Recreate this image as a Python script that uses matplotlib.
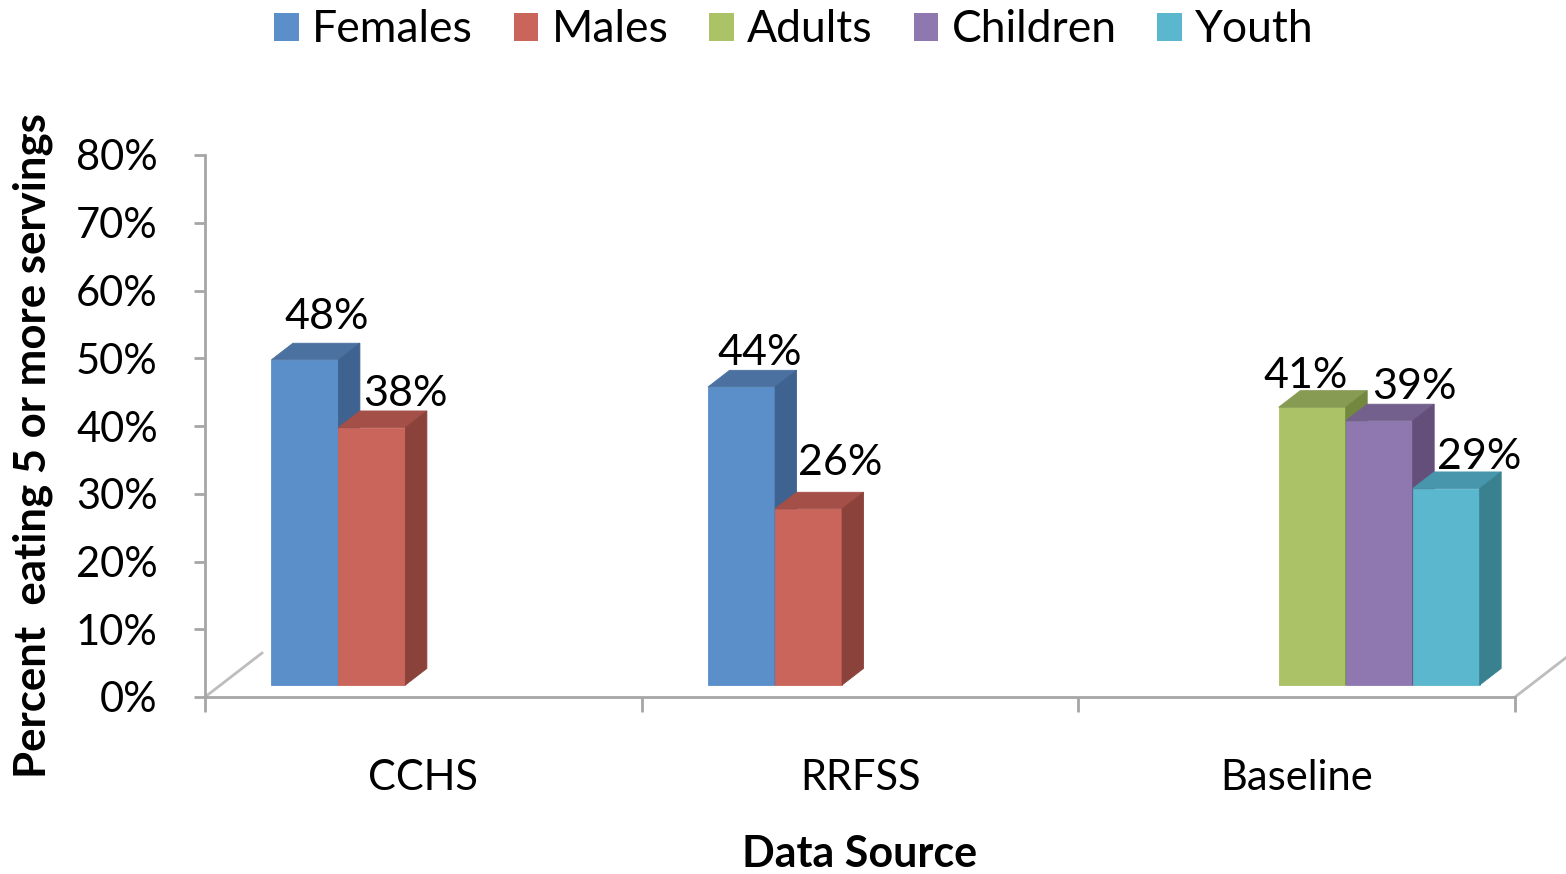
import numpy as np
import matplotlib.pyplot as plt
from matplotlib.patches import Polygon, Patch

plt.rcParams['font.family'] = ['Lato', 'DejaVu Sans']

sources = ["CCHS", "RRFSS", "Baseline"]
groups = ["Females", "Males", "Adults", "Children", "Youth"]

# percent eating 5+ servings, nan where a group was not measured
females = [48, 44, np.nan]
males = [38, 26, np.nan]
adults = [np.nan, np.nan, 41]
children = [np.nan, np.nan, 39]
youth = [np.nan, np.nan, 29]
values = [females, males, adults, children, youth]

yticks = [0, 10, 20, 30, 40, 50, 60, 70, 80]

# front / top / side shades for each series
shades = {
    "Females": ("#5B8FC9", "#4A71A0", "#3E6390"),
    "Males": ("#C9655A", "#A44F47", "#8B423A"),
    "Adults": ("#ABC266", "#879C52", "#72883F"),
    "Children": ("#8E78AF", "#73608D", "#644F7B"),
    "Youth": ("#5AB7CE", "#4796AB", "#3A818F"),
}

# label nudges in pixels (x, y above the back edge of the bar top)
nudge = {
    (0, 0): (0, 14), (0, 1): (12, 5),
    (1, 0): (-3, 5), (1, 1): (10, 17),
    (2, 2): (-28, 3), (2, 3): (14, 5), (2, 4): (12, 3),
}

fig = plt.figure(figsize=(15.66, 8.74), dpi=100)
ax = fig.add_axes([205 / 1566, 177 / 874, 1310 / 1566, 542 / 874])
ax.set_xlim(0, 3)
ax.set_ylim(0, 80)

# oblique depth of the floor, and where the bars sit inside it
DX, DY = 0.1305, 6.49
f0, f1 = 0.273, 0.65
w = 0.1534

grey = "#A6A6A6"
ax.plot([0, DX], [0, DY], color="#BDBDBD", lw=2, clip_on=False, zorder=1)
ax.plot([3, 3 + DX], [0, DY], color="#BDBDBD", lw=2, clip_on=False, zorder=1)

for i in range(len(sources)):
    for k, g in enumerate(groups):
        v = values[k][i]
        if np.isnan(v):
            continue
        left = i + 0.5 - 2.5 * w + k * w
        l0, l1 = left + f0 * DX, left + f1 * DX
        b0, b1 = f0 * DY, f1 * DY
        t0, t1 = v + b0, v + b1
        front, top, side = shades[g]
        faces = [
            ([(l0, b0), (l0 + w, b0), (l0 + w, t0), (l0, t0)], front),
            ([(l0, t0), (l0 + w, t0), (l1 + w, t1), (l1, t1)], top),
            ([(l0 + w, b0), (l0 + w, t0), (l1 + w, t1), (l1 + w, b1)], side),
        ]
        for pts, c in faces:
            ax.add_patch(Polygon(pts, closed=True, facecolor=c, edgecolor=c,
                                 lw=0.6, zorder=3 + i * 10 + k))
        nx, ny = nudge.get((i, k), (12, 5))
        ax.annotate(f"{v:.0f}%", xy=(l1 + w / 2, t1),
                    xytext=(nx * 0.72, ny * 0.72), textcoords="offset points",
                    ha="center", va="baseline", fontsize=31, zorder=50)

for s in ["top", "right"]:
    ax.spines[s].set_visible(False)
ax.spines["left"].set_color(grey)
ax.spines["left"].set_linewidth(2)
ax.spines["bottom"].set_color(grey)
ax.spines["bottom"].set_linewidth(2)

ax.set_yticks(yticks)
ax.set_yticklabels([f"{t}%" for t in yticks])
ax.tick_params(axis="y", direction="out", length=8, width=2, color=grey,
               pad=26, labelsize=30)

ax.set_xticks([0, 1, 2, 3])
ax.set_xticklabels([])
ax.tick_params(axis="x", which="major", direction="out", length=11, width=2,
               color=grey)
ax.set_xticks([0.5, 1.5, 2.5], minor=True)
ax.set_xticklabels(sources, minor=True)
ax.tick_params(axis="x", which="minor", length=0, pad=45, labelsize=30)

ax.set_xlabel("Data Source", fontsize=31, fontweight="bold", labelpad=26)
fig.text(33 / 1566, 1 - 446 / 874, "Percent  eating 5 or more servings",
         rotation=90, ha="center", va="center", fontsize=31.5,
         fontweight="bold")

handles = [Patch(facecolor=shades[g][0], edgecolor="none") for g in groups]
fig.legend(handles, groups, loc="center", bbox_to_anchor=(794 / 1566, 1 - 30 / 874),
           ncol=5, frameon=False, fontsize=32, handlelength=0.55,
           handleheight=0.6, handletextpad=0.3, columnspacing=0.92)

fig.savefig("out.png", dpi=100)
